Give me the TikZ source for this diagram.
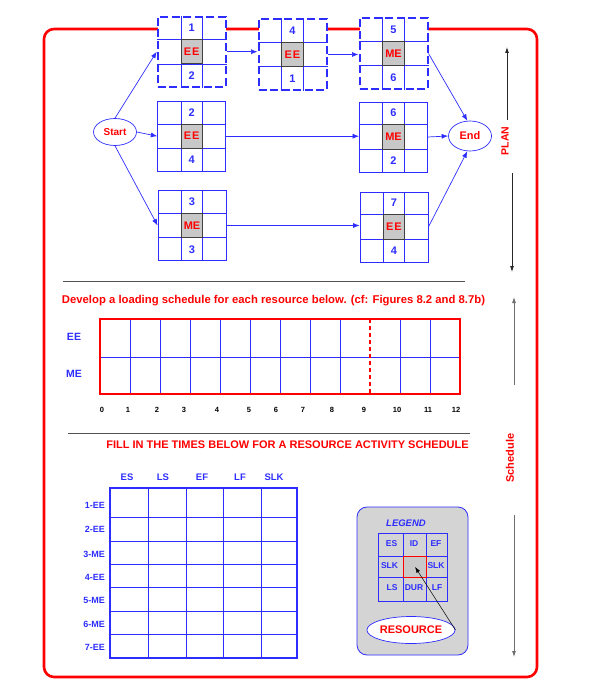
\documentclass[tikz,border=0pt]{standalone}
\usepackage{fontspec}
\setmainfont{Liberation Sans}
\usepackage{xcolor}
\definecolor{myblue}{RGB}{45,45,255}
\definecolor{myred}{RGB}{255,0,0}
\definecolor{mygray}{RGB}{200,200,200}
\definecolor{mylegend}{RGB}{212,212,212}
\definecolor{mydark}{RGB}{40,40,40}
\definecolor{mygrey}{RGB}{110,110,110}
\usepackage{tikz}
\usetikzlibrary{calc}
\usetikzlibrary{arrows.meta}
\usetikzlibrary{shapes.geometric}
\newcommand{\fs}[1]{\fontsize{#1}{#1}\selectfont\bfseries}
\tikzset{
    actbox/.style={draw=myblue, fill=white, line width=0.8pt, minimum width=68pt, minimum height=70pt, inner sep=0pt},
    critbox/.style={actbox, line width=2pt, dash pattern=on 8pt off 3.5pt},
    rescell/.style={fill=mygray, minimum width=21pt, minimum height=24pt, inner sep=0pt, text=myred, font=\fs{11}},
    resborder/.style={draw=black!75, line width=1pt},
    gridline/.style={myblue, line width=0.7pt},
    num/.style={text=myblue, font=\fs{11}, inner sep=0pt},
    event/.style={ellipse, draw=myblue, fill=white, line width=0.7pt, inner sep=0pt, text=myred},
    flow/.style={-{Latex[length=6.5pt,width=5pt]}, myblue, line width=0.7pt},
    frame/.style={myred, line width=2.6pt, rounded corners=10pt},
    rule/.style={mydark!80, line width=0.8pt},
    title/.style={text=myred, font=\fs{11.3}},
    reslabel/.style={text=myblue, font=\fs{10.5}},
    tick/.style={font=\fs{7.5}},
    colhead/.style={text=myblue, font=\fs{9.5}},
    rowhead/.style={text=myblue, font=\fs{9}, anchor=east, inner sep=0pt},
    lgtext/.style={text=myblue, font=\fs{8.5}, inner sep=0pt},
    dim/.style={-{Latex[length=6pt,width=4pt]}, mydark, line width=0.8pt},
    side/.style={text=myred, font=\fs{10.5}, rotate=90}
}
\newcommand{\activity}[6]{
    \node[#6] (#1) at (#2) {};
    \node[rescell] (#1r) at (#1.center) {#4};
    \draw[gridline] (#1r.west |- #1.north) -- (#1r.west |- #1.south)
        (#1r.east |- #1.north) -- (#1r.east |- #1.south)
        (#1.west |- #1r.north) -- (#1.east |- #1r.north)
        (#1.west |- #1r.south) -- (#1.east |- #1r.south);
    \draw[resborder] (#1r.north west) rectangle (#1r.south east);
    \node[num] (#1t) at ($(#1.north)!0.5!(#1r.north)$) {#3};
    \node[num] (#1b) at ($(#1.south)!0.5!(#1r.south)$) {#5};
}

\begin{document}
\begin{tikzpicture}[x=1pt, y=-1pt]
    \useasboundingbox (0,0) rectangle (590,685);
    \draw[frame] (44,29) rectangle (537,677);

    \activity{a1}{191.7,51.7}{1}{E\kern1pt E}{2}{critbox}
    \activity{a4}{292.5,54.5}{4}{E\kern1pt E}{1}{critbox}
    \activity{a5}{393.5,53.5}{5}{ME}{6}{critbox}
    \activity{a2}{191.7,136.2}{2}{E\kern1pt E}{4}{actbox}
    \activity{a6}{393.5,137}{6}{ME}{2}{actbox}
    \activity{a3}{192,225.5}{3}{ME}{3}{actbox}
    \activity{a7}{394,227}{7}{E\kern1pt E}{4}{actbox}

    \node[event, minimum width=43pt, minimum height=27pt, font=\fs{10}] (start) at (115,132) {Start};
    \node[event, minimum width=43pt, minimum height=30pt, font=\fs{11}] (end) at (470,136) {End};

    \draw[flow] (start.north) -- (a1.west);
    \draw[flow] (start.east) -- (a2.west);
    \draw[flow] (start.south) -- (a3.west);
    \draw[flow] (a1.east) -- (a1.east -| a4.west);
    \draw[flow] (a4.east) -- (a4.east -| a5.west);
    \draw[flow] (a2.east) -- (a2.east -| a6.west);
    \draw[flow] (a3.east) -- (a3.east -| a7.west);
    \draw[flow] (a5.east) -- (end.100);
    \draw[flow] (a6.east) -- (end.west);
    \draw[flow] (a7.east) -- (end.260);

    \node[side] (plan) at (505,141) {PLAN};
    \node[side, font=\fs{11}] (sched) at (510,458) {Schedule};
    \coordinate (plantop) at (507,47);
    \coordinate (planup) at (507,120);
    \coordinate (plandown) at (512,173);
    \coordinate (planbot) at (512,272);
    \coordinate (schedtop) at (514,297);
    \coordinate (schedup) at (514,385);
    \coordinate (scheddown) at (514,515);
    \coordinate (schedbot) at (514,657);
    \draw[dim] (planup) -- (plantop);
    \draw[dim] (plandown) -- (planbot);
    \draw[dim, mygrey] (schedup) -- (schedtop);
    \draw[dim, mygrey] (scheddown) -- (schedbot);

    \draw[rule] (63,281) -- (465,281);
    \node[title] (develop) at (273.5,301) {Develop a loading schedule for each resource below. (cf: Figures 8.2 and 8.7b)};

    \foreach \x in {130,160,...,340,400,430}
        \draw[gridline] (\x,319) -- (\x,394);
    \draw[gridline] (100,357) -- (460,357);
    \draw[myred, line width=1.2pt, dash pattern=on 4pt off 3pt] (370,319) -- (370,394);
    \draw[myred, line width=2pt] (100,319) rectangle (460,394);
    \node[reslabel] (ee) at (74,337) {EE};
    \node[reslabel] (me) at (74,374) {ME};
    \foreach \n/\x in {0/102,1/128,2/157,3/184,4/217,5/249,6/276,7/303,8/332,9/364,10/397,11/428,12/456}
        \node[tick] (t\n) at (\x,410) {\n};

    \draw[rule] (68,433) -- (470,433);
    \node[title, font=\fs{11}] (fillin) at (287.5,445) {FILL IN THE TIMES BELOW FOR A RESOURCE ACTIVITY SCHEDULE};

    \foreach \x in {148,186.5,223.5,261}
        \draw[gridline] (\x,488) -- (\x,658);
    \foreach \y in {517,541,564,587,611,634}
        \draw[gridline] (110,\y) -- (297,\y);
    \draw[myblue, line width=2pt] (110,488) rectangle (297,658);
    \foreach \t/\x in {ES/127,LS/163,EF/202,LF/240,SLK/274}
        \node[colhead] (h\t) at (\x,477) {\t};
    \foreach \t/\y in {1-EE/505,2-EE/529,3-ME/554,4-EE/577,5-ME/600,6-ME/624,7-EE/647}
        \node[rowhead] (r\t) at (105,\y) {\t};

    \draw[myblue, fill=mylegend, line width=0.8pt, rounded corners=10pt] (357,507) rectangle (468,655);
    \node[text=myblue, font=\fs{9.5}\itshape] (legend) at (406,523) {LEGEND};
    \foreach \x in {403.5,426.5}
        \draw[gridline] (\x,533) -- (\x,601);
    \foreach \y in {556,577.5}
        \draw[gridline] (378,\y) -- (447,\y);
    \draw[gridline] (378,533) rectangle (447,601);
    \node[fill=mygray, draw=myred, line width=0.8pt, minimum width=23pt, minimum height=21.5pt, inner sep=0pt] (lres) at (415,566.8) {};
    \foreach \t/\x/\y [count=\i] in {ES/391.5/544,ID/414/544,EF/436/544,SLK/389.5/566,SLK/436/566,LS/392/588,DUR/414/588,LF/437/588}
        \node[lgtext] (l\i) at (\x,\y) {\t};
    \node[event, minimum width=86pt, minimum height=27pt, font=\fs{11}] (resource) at (411,630) {RESOURCE};
    \draw[-{Latex[length=6pt,width=4pt]}, black, line width=0.5pt] (resource.east) -- (lres.center);
\end{tikzpicture}
\end{document}
